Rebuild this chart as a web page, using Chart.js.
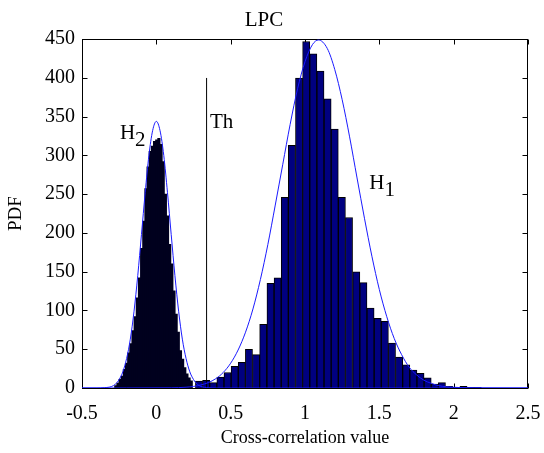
<!DOCTYPE html>
<html>
<head>
<meta charset="utf-8">
<script src="https://cdn.jsdelivr.net/npm/chart.js@4.4.0/dist/chart.umd.min.js"></script>
<style>
  html, body { margin: 0; padding: 0; background: #fff; }
</style>
</head>
<body>
<canvas id="chart" width="544" height="453"></canvas>
<script>
// H2 histogram (narrow bins around 0)
const h2Bins = [-0.2728, -0.2583, -0.2438, -0.2293, -0.2148, -0.2003, -0.1858, -0.1713, -0.1568, -0.1423,
                -0.1278, -0.1133, -0.0988, -0.0843, -0.0698, -0.0553, -0.0408, -0.0263, -0.0118, 0.0028,
                0.0173, 0.0318, 0.0463, 0.0608, 0.0753, 0.0898, 0.1043, 0.1188, 0.1333, 0.1478,
                0.1623, 0.1768, 0.1913, 0.2058, 0.2203, 0.2348];
const h2Counts = [3, 6, 11, 15, 24, 32, 45, 57, 74, 92,
                  116, 142, 180, 215, 257, 285, 305, 312, 318, 320,
                  322, 314, 292, 250, 222, 185, 160, 125, 95, 72,
                  48, 37, 26, 18, 13, 9];

// H1 histogram (wide bins)
const h1Bins = [0.287, 0.335, 0.383, 0.431, 0.479, 0.527, 0.575, 0.623, 0.671, 0.719,
                0.768, 0.816, 0.864, 0.912, 0.960, 1.008, 1.056, 1.104, 1.152, 1.200,
                1.248, 1.296, 1.345, 1.393, 1.441, 1.489, 1.537, 1.585, 1.633, 1.681,
                1.729, 1.777, 1.825, 1.873, 1.921, 1.969, 2.018, 2.066, 2.114, 2.162];
const h1Counts = [9, 10, 7, 14, 20, 28, 33, 50, 43, 82,
                  135, 142, 246, 313, 400, 447, 431, 409, 373, 334,
                  246, 220, 150, 136, 103, 90, 86, 58, 40, 30,
                  23, 19, 13, 5, 7, 2, 1, 2, 1, 1];

// fitted pdf curves
const h2CurveX = [-0.5, -0.4, -0.35, -0.3, -0.275, -0.25, -0.225, -0.2, -0.175, -0.15, -0.125, -0.1, -0.075, -0.05, -0.025,
                  0, 0.025, 0.05, 0.075, 0.1, 0.125, 0.15, 0.175, 0.2, 0.225, 0.25, 0.275, 0.3, 0.35, 0.4, 2.5];
const h2CurveY = [0, 0, 0.4, 2, 5, 11, 21, 38, 63, 99, 145, 198, 252, 300, 332,
                  344, 332, 300, 252, 198, 145, 99, 63, 38, 21, 11, 5, 2, 0.4, 0, 0];
const h1CurveX = [-0.5, 0.1, 0.2, 0.25, 0.3, 0.35, 0.4, 0.45, 0.5, 0.55, 0.6, 0.65, 0.7, 0.75, 0.8, 0.85, 0.9, 0.95, 1.0, 1.05,
                  1.09, 1.15, 1.2, 1.25, 1.3, 1.35, 1.4, 1.45, 1.5, 1.55, 1.6, 1.65, 1.7, 1.75, 1.8, 1.85, 1.9, 2.0, 2.1, 2.5];
const h1CurveY = [0, 0.3, 1, 2, 4, 7, 12, 20, 32, 49, 72, 102, 140, 185, 236, 288, 340, 386, 421, 443,
                  449, 438, 411, 372, 324, 271, 219, 170, 127, 92, 64, 43, 27, 17, 10, 6, 3, 1, 0.2, 0];

// threshold line
const thX = [0.338, 0.338];
const thY = [0, 400];

const xTicks = [-0.5, 0, 0.5, 1, 1.5, 2, 2.5];
const yTicks = [0, 50, 100, 150, 200, 250, 300, 350, 400, 450];

const serif = "'Liberation Serif', 'Times New Roman', serif";
const pts = (xs, ys) => xs.map((x, i) => ({ x: x, y: ys[i] }));

// box, inward ticks and text labels like a matlab figure
const framePlugin = {
    id: 'frame',
    beforeDatasetsDraw(chart) {
        const { ctx, chartArea: a, scales } = chart;
        const l = Math.round(a.left) + 0.5, r = Math.round(a.right) - 0.5;
        const t = Math.round(a.top) + 0.5, b = Math.round(a.bottom) + 0.5;
        ctx.save();
        ctx.strokeStyle = '#000';
        ctx.lineWidth = 1;
        ctx.strokeRect(l, t, r - l, b - t);
        ctx.beginPath();
        xTicks.forEach(v => {
            const px = Math.round(scales.x.getPixelForValue(v)) + 0.5;
            ctx.moveTo(px, b); ctx.lineTo(px, b - 5);
            ctx.moveTo(px, t); ctx.lineTo(px, t + 5);
        });
        yTicks.forEach(v => {
            const py = Math.round(scales.y.getPixelForValue(v)) + 0.5;
            ctx.moveTo(l, py); ctx.lineTo(l + 5, py);
            ctx.moveTo(r, py); ctx.lineTo(r - 5, py);
        });
        ctx.stroke();
        ctx.restore();
    },
    afterDatasetsDraw(chart) {
        const { ctx, scales } = chart;
        const put = (txt, sub, xv, yv) => {
            const px = scales.x.getPixelForValue(xv);
            const py = scales.y.getPixelForValue(yv);
            ctx.fillText(txt, px, py);
            if (sub) ctx.fillText(sub, px + ctx.measureText(txt).width, py + 7);
        };
        ctx.save();
        ctx.fillStyle = '#000';
        ctx.font = '21px ' + serif;
        ctx.textAlign = 'left';
        ctx.textBaseline = 'alphabetic';
        put('H', '2', -0.245, 321);
        put('Th', '', 0.361, 335);
        put('H', '1', 1.432, 257);
        ctx.restore();
    }
};

const ctx = document.getElementById('chart').getContext('2d');
const chart = new Chart(ctx, {
    type: 'bar',
    data: {
        datasets: [{
            type: 'line',
            data: pts(h2CurveX, h2CurveY),
            borderColor: '#1a1aff',
            borderWidth: 1,
            pointRadius: 0,
            cubicInterpolationMode: 'monotone',
            xAxisID: 'x',
            order: 0
        }, {
            type: 'line',
            data: pts(h1CurveX, h1CurveY),
            borderColor: '#1a1aff',
            borderWidth: 1,
            pointRadius: 0,
            cubicInterpolationMode: 'monotone',
            xAxisID: 'x',
            order: 0
        }, {
            type: 'line',
            data: pts(thX, thY),
            borderColor: '#000',
            borderWidth: 1,
            pointRadius: 0,
            xAxisID: 'x',
            order: 0
        }, {
            label: 'H2',
            data: pts(h2Bins, h2Counts),
            backgroundColor: '#00001e',
            borderWidth: 0,
            inflateAmount: 0.5,
            barPercentage: 1,
            categoryPercentage: 1,
            grouped: false,
            xAxisID: 'x',
            order: 1
        }, {
            label: 'H1',
            data: pts(h1Bins, h1Counts),
            backgroundColor: '#000080',
            borderColor: '#000',
            borderWidth: { left: 1, top: 1, right: 1, bottom: 0 },
            borderSkipped: false,
            barPercentage: 1,
            categoryPercentage: 1,
            grouped: false,
            xAxisID: 'x2',
            order: 1
        }]
    },
    options: {
        responsive: false,
        animation: false,
        devicePixelRatio: 1,
        layout: { padding: { right: 16 } },
        plugins: {
            legend: { display: false },
            tooltip: { enabled: false },
            title: {
                display: true,
                text: 'LPC',
                color: '#000',
                font: { family: serif, size: 21, weight: 'normal' },
                padding: { top: 8, bottom: 6 }
            }
        },
        scales: {
            x: {
                type: 'linear',
                min: -0.5,
                max: 2.5,
                offset: false,
                grid: { display: false, drawTicks: false, offset: false },
                border: { display: false },
                afterBuildTicks: s => { s.ticks = xTicks.map(v => ({ value: v })); },
                ticks: {
                    callback: v => String(v),
                    autoSkip: false,
                    maxRotation: 0,
                    color: '#000',
                    padding: 14,
                    font: { family: serif, size: 20 }
                },
                title: {
                    display: true,
                    text: 'Cross-correlation value',
                    color: '#000',
                    font: { family: serif, size: 18 },
                    padding: { top: 0, bottom: 4 }
                },
                afterFit: s => { s.height = 65; s.paddingLeft = 0; s.paddingRight = 0; }
            },
            x2: {
                type: 'linear',
                min: -0.5,
                max: 2.5,
                offset: false,
                display: false
            },
            y: {
                min: 0,
                max: 450,
                grid: { display: false, drawTicks: false },
                border: { display: false },
                afterBuildTicks: s => { s.ticks = yTicks.map(v => ({ value: v })); },
                ticks: {
                    color: '#000',
                    padding: 7,
                    font: { family: serif, size: 20 }
                },
                title: {
                    display: true,
                    text: 'PDF',
                    color: '#000',
                    font: { family: serif, size: 19 },
                    padding: { top: 5, bottom: 0 }
                },
                afterFit: s => { s.width = 82; s.paddingTop = 0; s.paddingBottom = 0; }
            }
        }
    },
    plugins: [framePlugin]
});
</script>
</body>
</html>
